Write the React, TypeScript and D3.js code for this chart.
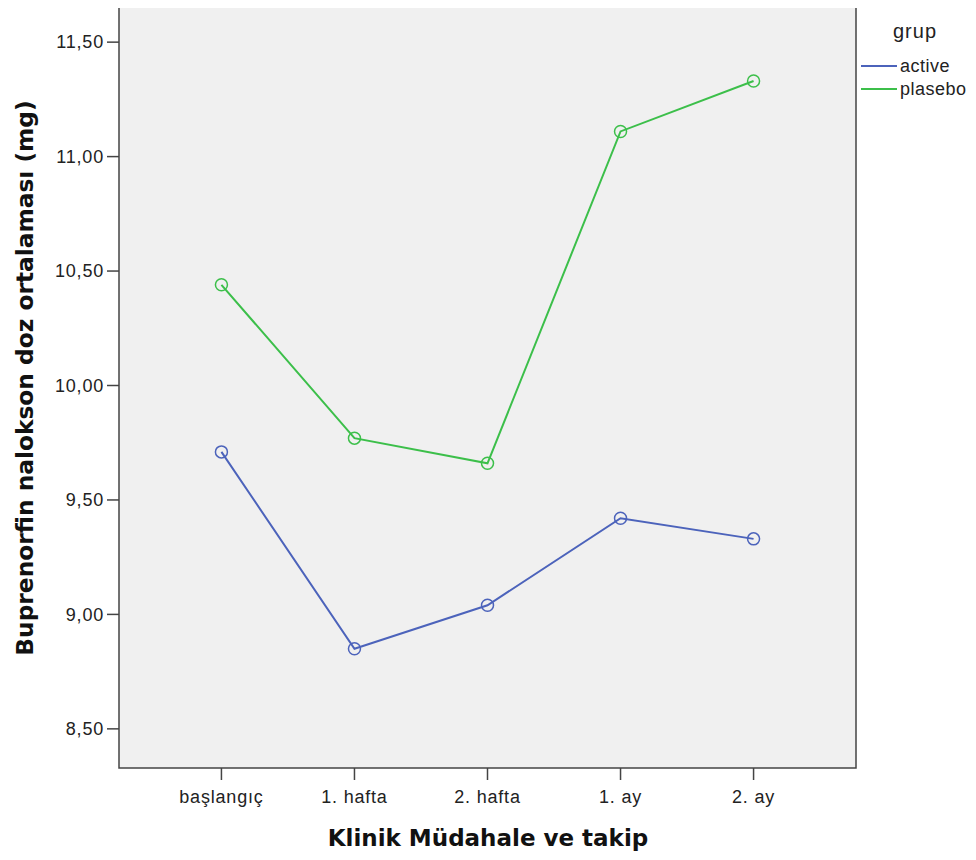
import React from 'react';
import * as d3 from 'd3';

const categories = ['başlangıç', '1. hafta', '2. hafta', '1. ay', '2. ay'];
const activeValues = [9.71, 8.85, 9.04, 9.42, 9.33];
const plaseboValues = [10.44, 9.77, 9.66, 11.11, 11.33];
const yTicks = [8.5, 9.0, 9.5, 10.0, 10.5, 11.0, 11.5];

const series = [
  { name: 'active', values: activeValues, color: '#4c63bb' },
  { name: 'plasebo', values: plaseboValues, color: '#3cbf4a' },
];

const font = '"Liberation Sans", Arial, sans-serif';
const titleFont = '"DejaVu Sans", Verdana, sans-serif';

const App = () => {
  const width = 976;
  const height = 860;
  const margin = { top: 3, right: 120, bottom: 92, left: 119 };
  const plotRight = width - margin.right;
  const plotBottom = height - margin.bottom;

  const xScale = d3
    .scalePoint<string>()
    .domain(categories)
    .range([margin.left, plotRight])
    .padding(0.77);

  const yScale = d3
    .scaleLinear()
    .domain([8.329, 11.671])
    .range([plotBottom, margin.top]);

  const line = d3
    .line<number>()
    .x((d, i) => xScale(categories[i]) as number)
    .y((d) => yScale(d));

  const fmt = (v: number) => v.toFixed(2).replace('.', ',');

  return (
    <svg width={width} height={height} style={{ display: 'block', margin: '-8px', background: 'white' }}>
      <rect
        x={margin.left}
        y={margin.top}
        width={plotRight - margin.left}
        height={plotBottom - margin.top}
        fill="#f0f0f0"
        stroke="#444"
        strokeWidth={1.5}
      />
      {/* y axis ticks */}
      {yTicks.map((t) => (
        <g key={t}>
          <line x1={margin.left - 12} x2={margin.left} y1={yScale(t)} y2={yScale(t)} stroke="#444" strokeWidth={1.5} />
          <text
            x={margin.left - 15}
            y={yScale(t)}
            dy="0.35em"
            textAnchor="end"
            fontFamily={font}
            fontSize={18}
            letterSpacing={0.8}
            fill="#222"
          >
            {fmt(t)}
          </text>
        </g>
      ))}
      {/* x axis ticks */}
      {categories.map((c) => (
        <g key={c}>
          <line
            x1={xScale(c)}
            x2={xScale(c)}
            y1={plotBottom}
            y2={plotBottom + 12}
            stroke="#444"
            strokeWidth={1.5}
          />
          <text
            x={xScale(c)}
            y={plotBottom + 35}
            textAnchor="middle"
            fontFamily={font}
            fontSize={18}
            letterSpacing={0.8}
            fill="#222"
          >
            {c}
          </text>
        </g>
      ))}
      {/* series */}
      {series.map((s) => (
        <g key={s.name}>
          <path d={line(s.values) || ''} fill="none" stroke={s.color} strokeWidth={2} />
          {s.values.map((v, i) => (
            <circle
              key={i}
              cx={xScale(categories[i])}
              cy={yScale(v)}
              r={6}
              fill="none"
              stroke={s.color}
              strokeWidth={1.5}
            />
          ))}
        </g>
      ))}
      {/* axis titles */}
      <text
        x={488}
        y={846}
        textAnchor="middle"
        fontFamily={titleFont}
        fontSize={23}
        fontWeight="bold"
        fill="#111"
      >
        Klinik Müdahale ve takip
      </text>
      <text
        transform={`translate(33,378) rotate(-90)`}
        textAnchor="middle"
        fontFamily={titleFont}
        fontSize={23.3}
        fontWeight="bold"
        fill="#111"
      >
        Buprenorfin nalokson doz ortalaması (mg)
      </text>
      {/* legend */}
      <text x={893} y={38} fontFamily={font} fontSize={20} letterSpacing={1} fill="#222">
        grup
      </text>
      {series.map((s, i) => (
        <g key={s.name} transform={`translate(861,${66 + i * 23})`}>
          <line x1={0} x2={36} y1={0} y2={0} stroke={s.color} strokeWidth={2} />
          <text x={39} y={0} dy="0.35em" fontFamily={font} fontSize={18} letterSpacing={0.5} fill="#222">
            {s.name}
          </text>
        </g>
      ))}
    </svg>
  );
};

export default App;
